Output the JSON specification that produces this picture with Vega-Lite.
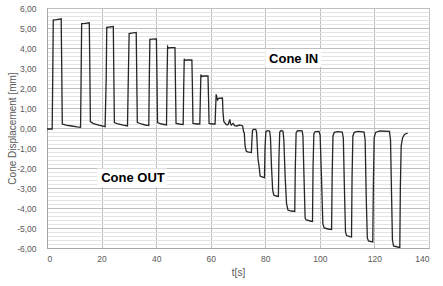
{
  "$schema": "https://vega.github.io/schema/vega-lite/v6.json",
  "width": 382,
  "height": 240,
  "autosize": "none",
  "padding": {"left": 47, "top": 8, "right": 14, "bottom": 38},
  "background": "white",
  "config": {
    "locale": {"number": {"decimal": ",", "thousands": ".", "grouping": [3], "currency": ["", " €"], "minus": "-"}},
    "view": {"stroke": "#a6a6a6", "strokeWidth": 1},
    "font": "Liberation Sans"
  },
  "datasets": {
    "trace": [
      {"t": 0, "v": -0.05}, {"t": 1.9, "v": -0.05}, {"t": 2.1, "v": 2.5}, {"t": 2.3, "v": 5.4}, {"t": 3.5, "v": 5.42}, {"t": 5.2, "v": 5.46}, {"t": 5.4, "v": 3.0}, {"t": 5.6, "v": 0.2}, {"t": 7, "v": 0.14}, {"t": 9, "v": 0.1}, {"t": 11, "v": 0.06}, {"t": 12.3, "v": 0.04},
      {"t": 12.5, "v": 2.5}, {"t": 12.7, "v": 5.22}, {"t": 14, "v": 5.23}, {"t": 15.5, "v": 5.26}, {"t": 15.7, "v": 3.0}, {"t": 15.9, "v": 0.32}, {"t": 17, "v": 0.22}, {"t": 19, "v": 0.14}, {"t": 21.3, "v": 0.07},
      {"t": 21.7, "v": 2.5}, {"t": 21.9, "v": 5.03}, {"t": 23, "v": 5.05}, {"t": 24.3, "v": 5.08}, {"t": 24.5, "v": 2.5}, {"t": 24.7, "v": 0.27}, {"t": 26, "v": 0.2}, {"t": 28, "v": 0.14}, {"t": 29.5, "v": 0.1},
      {"t": 29.8, "v": 2.5}, {"t": 30.1, "v": 4.72}, {"t": 31, "v": 4.74}, {"t": 32.7, "v": 4.78}, {"t": 32.9, "v": 2.5}, {"t": 33.1, "v": 0.28}, {"t": 34.5, "v": 0.2}, {"t": 36, "v": 0.15}, {"t": 37.3, "v": 0.12},
      {"t": 37.5, "v": 2.5}, {"t": 37.7, "v": 4.43}, {"t": 38.5, "v": 4.44}, {"t": 40.1, "v": 4.45}, {"t": 40.3, "v": 2.5}, {"t": 40.5, "v": 0.27}, {"t": 42, "v": 0.2}, {"t": 43.8, "v": 0.15},
      {"t": 44.0, "v": 2.5}, {"t": 44.2, "v": 4.07}, {"t": 44.5, "v": 4.0}, {"t": 45.5, "v": 4.02}, {"t": 46.9, "v": 4.02}, {"t": 47.1, "v": 2.0}, {"t": 47.3, "v": 0.23}, {"t": 48.5, "v": 0.2}, {"t": 49.9, "v": 0.17},
      {"t": 50.1, "v": 2.0}, {"t": 50.3, "v": 3.46}, {"t": 50.6, "v": 3.38}, {"t": 51.5, "v": 3.4}, {"t": 53.1, "v": 3.4}, {"t": 53.3, "v": 2.0}, {"t": 53.5, "v": 0.23}, {"t": 55, "v": 0.2}, {"t": 56, "v": 0.2},
      {"t": 56.2, "v": 1.5}, {"t": 56.4, "v": 2.68}, {"t": 56.7, "v": 2.58}, {"t": 57.5, "v": 2.6}, {"t": 59.0, "v": 2.6}, {"t": 59.2, "v": 1.5}, {"t": 59.4, "v": 0.23}, {"t": 60.5, "v": 0.2}, {"t": 61.6, "v": 0.2},
      {"t": 61.8, "v": 1.0}, {"t": 62.0, "v": 1.68}, {"t": 62.5, "v": 1.4}, {"t": 62.9, "v": 1.48}, {"t": 64.3, "v": 1.5}, {"t": 64.5, "v": 0.8}, {"t": 64.8, "v": 0.32}, {"t": 65.5, "v": 0.2}, {"t": 66.0, "v": 0.15}, {"t": 66.5, "v": 0.2}, {"t": 67.0, "v": 0.43}, {"t": 67.3, "v": 0.2}, {"t": 67.6, "v": 0.15}, {"t": 68.2, "v": 0.23}, {"t": 68.8, "v": 0.12}, {"t": 69.4, "v": 0.1}, {"t": 70.7, "v": 0.15}, {"t": 71.7, "v": 0.1},
      {"t": 72.0, "v": -0.15}, {"t": 72.3, "v": -0.25}, {"t": 72.6, "v": -0.9}, {"t": 73.0, "v": -1.15}, {"t": 73.5, "v": -1.2}, {"t": 74.9, "v": -1.23}, {"t": 75.1, "v": -0.6}, {"t": 75.3, "v": -0.15}, {"t": 75.6, "v": -0.07}, {"t": 76.5, "v": -0.07}, {"t": 76.8, "v": -0.2},
      {"t": 77.3, "v": -1.5}, {"t": 77.8, "v": -2.0}, {"t": 78.1, "v": -2.4}, {"t": 79.0, "v": -2.46}, {"t": 79.7, "v": -2.48}, {"t": 79.9, "v": -1.0}, {"t": 80.2, "v": -0.2}, {"t": 80.7, "v": -0.13}, {"t": 81.6, "v": -0.15}, {"t": 81.9, "v": -0.5},
      {"t": 82.3, "v": -2.0}, {"t": 82.7, "v": -3.1}, {"t": 83.1, "v": -3.35}, {"t": 84.0, "v": -3.4}, {"t": 84.8, "v": -3.42}, {"t": 85.0, "v": -1.5}, {"t": 85.3, "v": -0.2}, {"t": 85.8, "v": -0.13}, {"t": 86.5, "v": -0.16}, {"t": 86.8, "v": -0.6},
      {"t": 87.3, "v": -2.5}, {"t": 87.8, "v": -3.8}, {"t": 88.3, "v": -4.1}, {"t": 89.5, "v": -4.15}, {"t": 90.8, "v": -4.17}, {"t": 91.0, "v": -2.0}, {"t": 91.3, "v": -0.25}, {"t": 91.8, "v": -0.13}, {"t": 93.5, "v": -0.14}, {"t": 93.8, "v": -0.4},
      {"t": 94.2, "v": -2.5}, {"t": 94.6, "v": -4.5}, {"t": 95.0, "v": -4.6}, {"t": 96.5, "v": -4.65}, {"t": 97.3, "v": -4.67}, {"t": 97.5, "v": -2.0}, {"t": 97.8, "v": -0.3}, {"t": 98.3, "v": -0.18}, {"t": 99.7, "v": -0.17}, {"t": 100.1, "v": -0.35},
      {"t": 100.6, "v": -2.5}, {"t": 101.1, "v": -4.8}, {"t": 101.6, "v": -5.0}, {"t": 103, "v": -5.05}, {"t": 104.3, "v": -5.07}, {"t": 104.5, "v": -2.5}, {"t": 104.8, "v": -0.4}, {"t": 105.3, "v": -0.22}, {"t": 106.5, "v": -0.18}, {"t": 108.2, "v": -0.2}, {"t": 108.6, "v": -0.5},
      {"t": 109.0, "v": -3.0}, {"t": 109.4, "v": -5.2}, {"t": 109.8, "v": -5.38}, {"t": 111, "v": -5.43}, {"t": 111.6, "v": -5.45}, {"t": 111.8, "v": -2.5}, {"t": 112.1, "v": -0.4}, {"t": 112.6, "v": -0.22}, {"t": 114, "v": -0.17}, {"t": 116.2, "v": -0.2}, {"t": 116.6, "v": -0.6},
      {"t": 117.0, "v": -3.5}, {"t": 117.4, "v": -5.5}, {"t": 117.8, "v": -5.65}, {"t": 118.8, "v": -5.68}, {"t": 119.4, "v": -5.7}, {"t": 119.6, "v": -3.0}, {"t": 119.9, "v": -0.5}, {"t": 120.4, "v": -0.22}, {"t": 122, "v": -0.15}, {"t": 125.5, "v": -0.17}, {"t": 125.9, "v": -0.6},
      {"t": 126.3, "v": -3.5}, {"t": 126.6, "v": -5.6}, {"t": 127.0, "v": -5.9}, {"t": 128.5, "v": -5.95}, {"t": 129.3, "v": -5.98}, {"t": 129.5, "v": -3.0}, {"t": 129.8, "v": -0.9}, {"t": 130.3, "v": -0.5}, {"t": 131, "v": -0.32}, {"t": 132.2, "v": -0.25}
    ],
    "labels": [
      {"label": "Cone IN", "t": 90.4, "v": 3.45, "t0": 80, "t1": 100.5, "v0": 3.05, "v1": 3.95},
      {"label": "Cone OUT", "t": 31.5, "v": -2.48, "t0": 18.5, "t1": 44, "v0": -2.03, "v1": -2.95}
    ]
  },
  "layer": [
    {
      "data": {"name": "trace"},
      "mark": {"type": "point", "opacity": 0},
      "encoding": {
        "x": {"field": "t", "type": "quantitative", "scale": {"domain": [0, 140], "nice": false},
          "axis": {"title": "t[s]", "orient": "bottom", "values": [0, 20, 40, 60, 80, 100, 120, 140], "grid": true, "gridColor": "#bfbfbf", "ticks": false, "domainColor": "#a6a6a6", "labelFont": "Liberation Sans", "labelFontSize": 8.5, "labelColor": "#595959", "labelPadding": 6, "titleFont": "Liberation Sans", "titleFontSize": 10, "titleFontWeight": "normal", "titleColor": "#595959", "titlePadding": 5}},
        "y": {"field": "v", "type": "quantitative", "scale": {"domain": [-6, 6], "nice": false}, "axis": {"orient": "right", "values": [-5.8,-5.6,-5.4,-5.2,-4.8,-4.6,-4.4,-4.2,-3.8,-3.6,-3.4,-3.2,-2.8,-2.6,-2.4,-2.2,-1.8,-1.6,-1.4,-1.2,-0.8,-0.6,-0.4,-0.2,0.2,0.4,0.6,0.8,1.2,1.4,1.6,1.8,2.2,2.4,2.6,2.8,3.2,3.4,3.6,3.8,4.2,4.4,4.6,4.8,5.2,5.4,5.6,5.8], "grid": true, "gridColor": "#e4e4e4", "labels": false, "ticks": false, "domain": false, "title": null}}
      }
    },
    {
      "data": {"name": "trace"},
      "mark": {"type": "line", "color": "#262626", "strokeWidth": 1.3, "clip": true},
      "encoding": {
        "x": {"field": "t", "type": "quantitative"},
        "y": {"field": "v", "type": "quantitative",
          "axis": {"title": "Cone Displacement [mm]", "orient": "left", "values": [-6, -5, -4, -3, -2, -1, 0, 1, 2, 3, 4, 5, 6], "format": ".2f", "grid": true, "gridColor": "#bfbfbf", "ticks": false, "domainColor": "#a6a6a6", "labelFont": "Liberation Sans", "labelFontSize": 8.5, "labelColor": "#595959", "labelPadding": 11, "titleFont": "Liberation Sans", "titleFontSize": 10, "titleFontWeight": "normal", "titleColor": "#595959", "titlePadding": -1}}
      }
    },
    {
      "data": {"name": "labels"},
      "mark": {"type": "rect", "color": "white"},
      "encoding": {
        "x": {"field": "t0", "type": "quantitative"},
        "x2": {"field": "t1"},
        "y": {"field": "v0", "type": "quantitative", "axis": null},
        "y2": {"field": "v1"}
      }
    },
    {
      "data": {"name": "labels"},
      "mark": {"type": "text", "font": "Liberation Sans", "fontWeight": "bold", "fontSize": 13, "color": "#000000", "align": "center", "baseline": "middle"},
      "encoding": {
        "x": {"field": "t", "type": "quantitative"},
        "y": {"field": "v", "type": "quantitative", "axis": null},
        "text": {"field": "label"}
      }
    }
  ],
  "resolve": {"axis": {"y": "independent"}}
}
